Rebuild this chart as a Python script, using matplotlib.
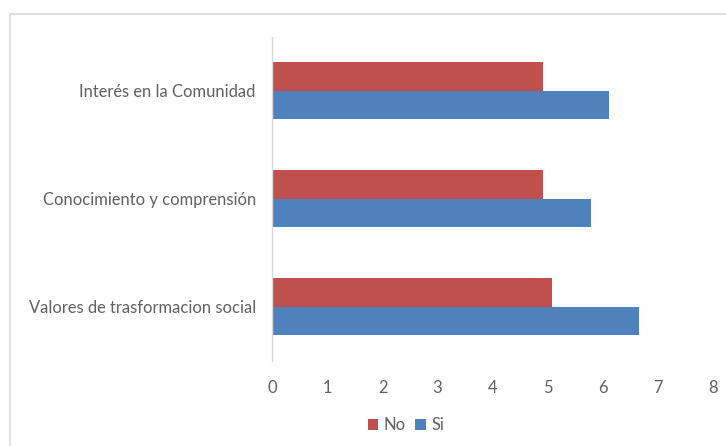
import matplotlib
matplotlib.use("Agg")
import matplotlib.pyplot as plt
from matplotlib.patches import Rectangle
import numpy as np

categories = ["Valores de trasformacion social", "Conocimiento y comprensión", "Interés en la Comunidad"]
no_values = [5.08, 4.92, 4.92]
si_values = [6.66, 5.79, 6.12]
x_ticks = [0, 1, 2, 3, 4, 5, 6, 7, 8]

RED = "#C0504D"
BLUE = "#4F81BD"
TEXT = "#606060"
LINE = "#D9D9D9"

plt.rcParams["font.family"] = ["Lato", "DejaVu Sans"]

fig = plt.figure(figsize=(7.26, 4.46), dpi=100)
ax = fig.add_axes([0.3753, 0.1917, 0.6064, 0.7260])

y = np.arange(len(categories))
h = 0.2625
ax.barh(y + h / 2, no_values, height=h, color=RED, label="No")
ax.barh(y - h / 2, si_values, height=h, color=BLUE, label="Si")

ax.set_xlim(0, 8)
ax.set_ylim(-0.5, len(categories) - 0.5)
ax.set_xticks(x_ticks)
ax.set_xticklabels([str(t) for t in x_ticks])
ax.set_yticks(y)
ax.set_yticklabels(categories)
ax.tick_params(axis="both", length=0, colors=TEXT, labelsize=11.9)
ax.tick_params(axis="x", pad=14)
ax.tick_params(axis="y", pad=12)

for side in ["top", "right", "bottom"]:
    ax.spines[side].set_visible(False)
ax.spines["left"].set_color(LINE)
ax.spines["left"].set_linewidth(1.0)

leg = fig.legend(loc="center", bbox_to_anchor=(0.559, 0.047), ncol=2, frameon=False,
                 handlelength=0.65, handleheight=0.65, handletextpad=0.3, columnspacing=0.6,
                 fontsize=11.9)
for t in leg.get_texts():
    t.set_color(TEXT)

# outer chart-area border
fig.patches.append(Rectangle((10 / 726, -0.05), 1.0, 1 - 14 / 446 + 0.05,
                             transform=fig.transFigure, fill=False,
                             edgecolor=LINE, linewidth=1.2))

fig.savefig("out.png", dpi=100, facecolor="white")
